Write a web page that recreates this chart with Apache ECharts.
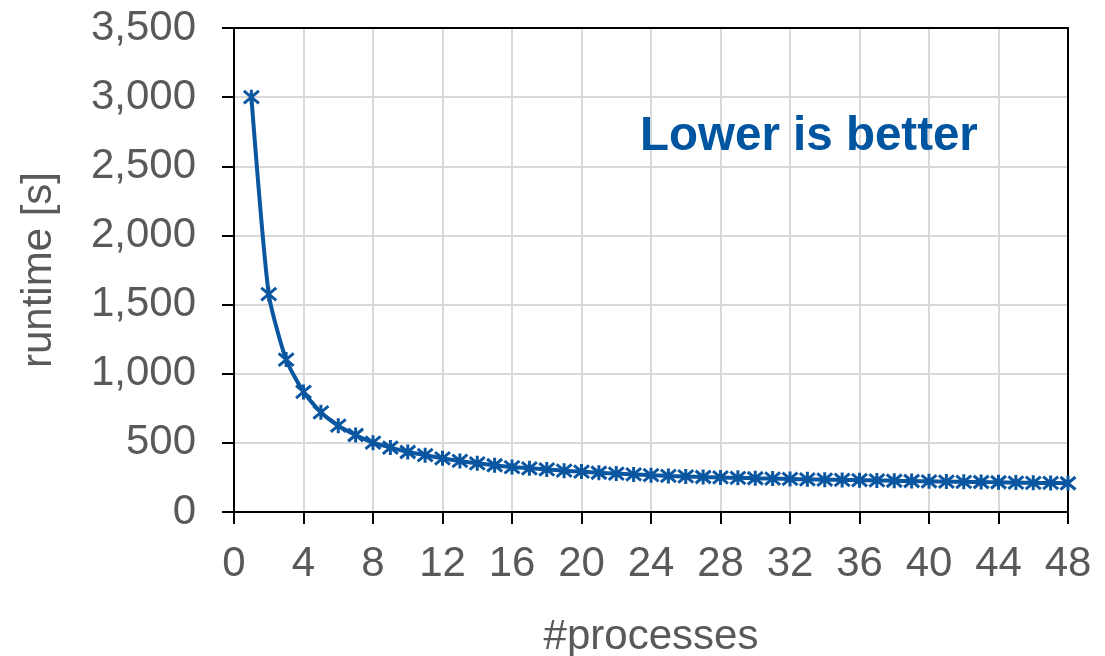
<!DOCTYPE html>
<html>
<head>
<meta charset="utf-8">
<script src="https://cdn.jsdelivr.net/npm/echarts@6/dist/echarts.min.js"></script>
<style>
html,body{margin:0;padding:0;background:#fff;}
#c{width:1105px;height:656px;}
</style>
</head>
<body>
<div id="c"></div>
<script>
const processes = [1,2,3,4,5,6,7,8,9,10,11,12,13,14,15,16,17,18,19,20,21,22,23,24,25,26,27,28,29,30,31,32,33,34,35,36,37,38,39,40,41,42,43,44,45,46,47,48];
const runtime = [3000,1575,1102,868,721,624,557,501,466,434,411,388,369,352,338,325,316,308,299,292,284,278,272,266,261,257,253,250,247,244,242,239,236,234,232,230,228,226,224,222,220,218,217,215,213,211,210,208];
const xTicks = {min:0, max:48, interval:4};
const yTicks = {min:0, max:3500, interval:500};
const annotation = 'Lower is better';

const chart = echarts.init(document.getElementById('c'), null, {renderer:'canvas'});
const font = '"Liberation Sans", Arial, sans-serif';
const gray = '#595959';
const blue = '#0B56A0';
chart.setOption({
  animation:false,
  backgroundColor:'#fff',
  grid:{left:234, right:37, top:28, bottom:144, containLabel:false, outerBoundsMode:'none'},
  xAxis:[{
    type:'value', min:xTicks.min, max:xTicks.max, interval:xTicks.interval,
    name:'#processes', nameLocation:'middle', nameGap:104,
    nameTextStyle:{fontFamily:font, fontSize:42, color:gray},
    axisLine:{show:true, lineStyle:{color:'#000', width:2}},
    axisTick:{show:true, length:12, lineStyle:{color:'#000', width:2}},
    axisLabel:{fontFamily:font, fontSize:42, color:gray, margin:31},
    splitLine:{show:true, lineStyle:{color:'#d9d9d9', width:2}}
  },{
    type:'value', position:'top', min:xTicks.min, max:xTicks.max,
    axisLine:{show:true, onZero:false, lineStyle:{color:'#000', width:2}},
    axisTick:{show:false}, axisLabel:{show:false}, splitLine:{show:false}
  }],
  yAxis:[{
    type:'value', min:yTicks.min, max:yTicks.max, interval:yTicks.interval,
    name:'runtime [s]', nameLocation:'middle', nameGap:174, nameRotate:90,
    nameTextStyle:{fontFamily:font, fontSize:42, color:gray},
    axisLine:{show:true, lineStyle:{color:'#000', width:2}},
    axisTick:{show:true, length:12, lineStyle:{color:'#000', width:2}},
    axisLabel:{fontFamily:font, fontSize:42, color:gray, margin:38,
      formatter:function(v){return v.toLocaleString('en-US');}},
    splitLine:{show:true, lineStyle:{color:'#d9d9d9', width:2}}
  },{
    type:'value', position:'right', min:yTicks.min, max:yTicks.max,
    axisLine:{show:true, onZero:false, lineStyle:{color:'#000', width:2}},
    axisTick:{show:false}, axisLabel:{show:false}, splitLine:{show:false}
  }],
  series:[{
    type:'line', xAxisIndex:0, yAxisIndex:0,
    data:processes.map((p,i)=>[p, runtime[i]]),
    smooth:0.2,
    lineStyle:{color:blue, width:4},
    symbol:'path://M0,0L10,10M10,0L0,10M5,-1L5,11',
    symbolSize:15,
    itemStyle:{color:'rgba(0,0,0,0)', borderColor:blue, borderWidth:3},
    z:3
  }],
  graphic:[{
    type:'text', left:640, top:113, z:100,
    style:{text:annotation, fontFamily:font, fontSize:47.5, fontWeight:'bold', fill:'#0055A0'}
  }]
});
</script>
</body>
</html>
